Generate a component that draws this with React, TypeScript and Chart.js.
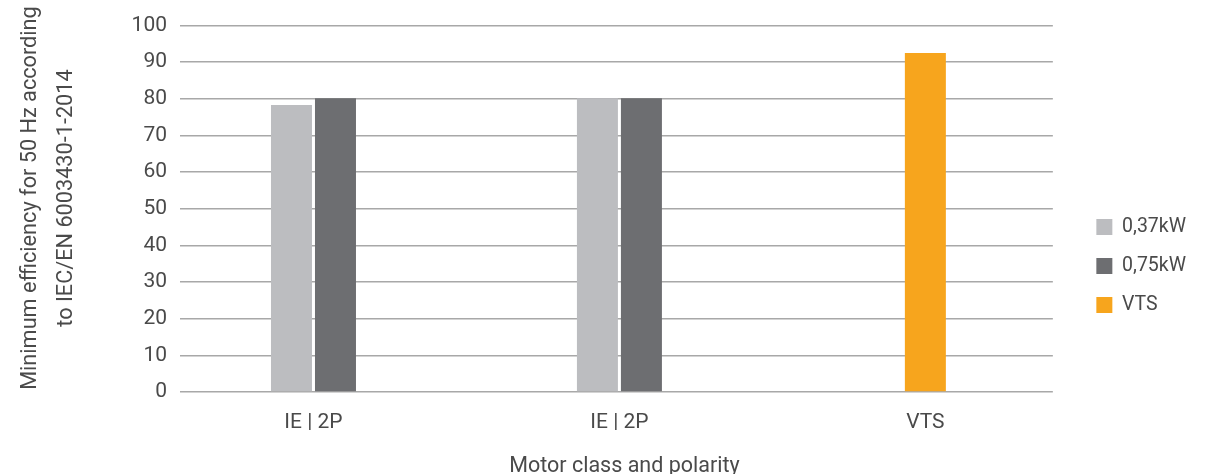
import React, { useEffect, useRef } from 'react';
import { Chart, registerables } from 'chart.js';

Chart.register(...registerables);

const categories = ['IE | 2P', 'IE | 2P', 'VTS'];
const seriesNames = ['0,37kW', '0,75kW', 'VTS'];
const values037: (number | null)[] = [78.3, 80.2, null];
const values075: (number | null)[] = [80.2, 80.2, null];
const valuesVTS: (number | null)[] = [null, null, 92.5];
const seriesColors = ['#bcbdc0', '#6d6e71', '#f7a51d'];
const yTitle = ['Minimum efficiency for 50 Hz according', 'to IEC/EN 6003430-1-2014'];
const xTitle = 'Motor class and polarity';

const FONT = 'Roboto';
const TEXT = '#4a4a4a';

function toPoints(vals: (number | null)[]) {
  return categories.map((_, i) => ({ x: i, y: vals[i] }));
}

export default function App() {
  const ref = useRef<HTMLCanvasElement | null>(null);
  useEffect(() => {
    document.body.style.margin = '0';
    if (!ref.current) return;
    const seriesValues = [values037, values075, valuesVTS];
    const chart = new Chart(ref.current, {
      type: 'bar',
      data: {
        datasets: seriesNames.map((name, k) => ({
          label: name,
          data: toPoints(seriesValues[k]) as any,
          backgroundColor: seriesColors[k],
          borderWidth: 0,
          xAxisID: 'x',
          yAxisID: 'y',
          categoryPercentage: 0.2876,
          barPercentage: 0.9318,
          maxBarThickness: 41,
          skipNull: true,
        })),
      },
      options: {
        animation: false,
        responsive: false,
        events: [],
        layout: { padding: { top: 24, right: 24, bottom: 0, left: 0 } },
        plugins: {
          tooltip: { enabled: false },
          legend: {
            position: 'right',
            align: 'center',
            title: { display: true, text: '', padding: 0, font: { size: 10, lineHeight: '34px' } },
            labels: {
              boxWidth: 16,
              boxHeight: 16,
              padding: 19.5,
              color: TEXT,
              font: { family: FONT, size: 19.5 },
            },
          },
        },
        scales: {
          x: {
            type: 'linear',
            offset: false,
            min: -0.4363,
            max: 2.4167,
            grid: { display: false },
            border: { display: false },
            ticks: {
              stepSize: 1,
              includeBounds: false,
              autoSkip: false,
              maxRotation: 0,
              padding: 10,
              color: TEXT,
              font: { family: FONT, size: 21 },
              callback: (v: any) => (Number.isInteger(v) ? categories[v] : ''),
            },
            title: {
              display: true,
              text: '   ' + xTitle,
              color: TEXT,
              padding: { top: 0, bottom: 0 },
              font: { family: FONT, size: 21.5, lineHeight: '14px' },
            },
            afterFit: (s: any) => {
              s.height = 82;
            },
          },
          y: {
            type: 'linear',
            min: 0,
            max: 100,
            grid: { color: '#a8a8a8', lineWidth: 1.5, drawTicks: false },
            border: { display: false },
            ticks: {
              stepSize: 10,
              padding: 13,
              color: TEXT,
              font: { family: FONT, size: 21 },
            },
            title: {
              display: true,
              text: yTitle.map((t) => '    ' + t),
              color: TEXT,
              padding: { top: 13, bottom: 0 },
              font: { family: FONT, size: 21.7, lineHeight: '36px' },
            },
            afterFit: (s: any) => {
              s.width = 180;
            },
          },
          yPad: {
            type: 'linear',
            position: 'right',
            display: true,
            grid: { display: false },
            border: { display: false },
            ticks: { display: false },
            afterFit: (s: any) => {
              s.width = 24;
            },
          },
        },
      } as any,
    });
    return () => chart.destroy();
  }, []);
  return (
    <div style={{ position: 'absolute', left: 0, top: 0, width: 1220, height: 474 }}>
      <canvas ref={ref} width={1220} height={474} style={{ width: 1220, height: 474 }} />
    </div>
  );
}
